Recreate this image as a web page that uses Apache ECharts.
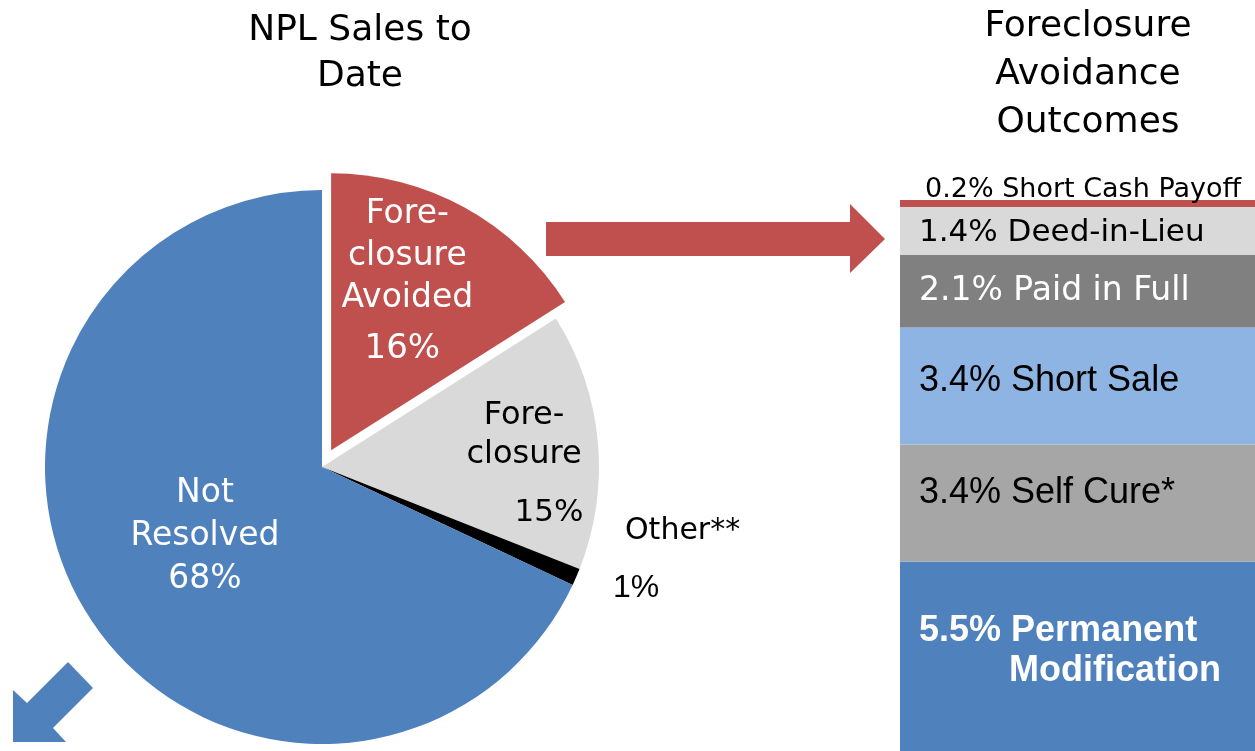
<!DOCTYPE html>
<html>
<head>
<meta charset="utf-8">
<script src="https://cdn.jsdelivr.net/npm/echarts@6/dist/echarts.min.js"></script>
<style>
  html, body { margin: 0; padding: 0; background: #fff; }
  #chart { width: 1255px; height: 751px; }
</style>
</head>
<body>
<div id="chart"></div>
<script>
// NPL sales to date, share of loans (%)
const pieNames = ["Fore-\nclosure\nAvoided", "Fore-\nclosure", "Other**", "Not\nResolved"];
const pieValues = [16, 15, 1, 68];

// foreclosure avoidance outcomes (%), stacked bottom to top
const outcomeNames = ["Permanent\nModification", "Self Cure*", "Short Sale", "Paid in Full", "Deed-in-Lieu", "Short Cash Payoff"];
const outcomeValues = [5.5, 3.4, 3.4, 2.1, 1.4, 0.2];

const pieColors = ["#C0504D", "#D9D9D9", "#000000", "#4F81BD"];
const outcomeColors = ["#4F81BD", "#A6A6A6", "#8DB4E2", "#808080", "#D9D9D9", "#C0504D"];

const TAHOMA = "DejaVu Sans";
const ARIAL = "Liberation Sans";

// where each pie label sits (x, y, align); null = keep the inside spot (exploded slice)
const pieLabelAt = [null, [524, 474, "center"], [613, 560, "left"], [205, 536, "center"]];
// the exploded slice's label is nudged with box padding instead
const piePadding = [[0, 0, 80, 16], 0, 0, 0];

const pieRich = [
  { t: { color: "#fff", fontFamily: TAHOMA, fontSize: 33, lineHeight: 42 },
    p: { color: "#fff", fontFamily: TAHOMA, fontSize: 34, lineHeight: 60, padding: [0, 10, 0, 0] } },
  { t: { color: "#000", fontFamily: TAHOMA, fontSize: 32, lineHeight: 39 },
    p: { color: "#000", fontFamily: TAHOMA, fontSize: 31, lineHeight: 78, padding: [0, 0, 0, 50] } },
  { t: { color: "#000", fontFamily: TAHOMA, fontSize: 30, lineHeight: 57, padding: [0, 0, 0, 12] },
    p: { color: "#000", fontFamily: ARIAL, fontSize: 32, lineHeight: 57 } },
  { t: { color: "#fff", fontFamily: TAHOMA, fontSize: 33, lineHeight: 43 },
    p: { color: "#fff", fontFamily: TAHOMA, fontSize: 33, lineHeight: 43 } }
];

// label look for each outcome segment
const outcomeLabel = [
  { color: "#fff", fontFamily: ARIAL, fontSize: 36, fontWeight: "bold", lineHeight: 40, offset: [0, -5] },
  { color: "#000", fontFamily: ARIAL, fontSize: 36, offset: [0, -10] },
  { color: "#000", fontFamily: ARIAL, fontSize: 36, offset: [0, -5] },
  { color: "#fff", fontFamily: TAHOMA, fontSize: 33, offset: [0, 0] },
  { color: "#000", fontFamily: TAHOMA, fontSize: 31, offset: [0, 2] },
  { color: "#000", fontFamily: TAHOMA, fontSize: 27, position: [25, -10] }
];

const barSeries = outcomeNames.map((name, i) => {
  const lab = outcomeLabel[i];
  const lines = name.split("\n");
  return {
    type: "bar",
    name: name,
    stack: "outcomes",
    barWidth: "100%",
    data: [outcomeValues[i]],
    itemStyle: { color: outcomeColors[i] },
    label: {
      show: true,
      position: lab.position || "insideLeft",
      distance: 19,
      offset: lab.offset || [0, 0],
      align: "left",
      verticalAlign: "middle",
      formatter: p => {
        const first = "{a|" + p.value + "% " + lines[0] + "}";
        return lines.length > 1 ? first + "\n{b|" + lines.slice(1).join(" ") + "}" : first;
      },
      rich: {
        a: { color: lab.color, fontFamily: lab.fontFamily, fontSize: lab.fontSize, fontWeight: lab.fontWeight || "normal", lineHeight: lab.lineHeight || 40 },
        b: { color: lab.color, fontFamily: lab.fontFamily, fontSize: lab.fontSize, fontWeight: lab.fontWeight || "normal", lineHeight: lab.lineHeight || 40, padding: [0, 0, 0, 90] }
      }
    }
  };
});

const chart = echarts.init(document.getElementById("chart"));
chart.setOption({
  animation: false,
  backgroundColor: "#fff",
  title: [
    {
      text: "NPL Sales to\nDate",
      left: 355, top: 3, textAlign: "center",
      textStyle: { fontFamily: TAHOMA, fontSize: 36, fontWeight: "normal", color: "#000", lineHeight: 46 }
    },
    {
      text: "Foreclosure\nAvoidance\nOutcomes",
      left: 1083, top: -2, textAlign: "center",
      textStyle: { fontFamily: TAHOMA, fontSize: 36, fontWeight: "normal", color: "#000", lineHeight: 48 }
    }
  ],
  grid: { left: 900, right: 0, top: 200, bottom: -3 },
  xAxis: { type: "category", data: ["Outcomes"], show: false },
  yAxis: { type: "value", min: 0, max: 16, show: false },
  series: [
    {
      type: "pie",
      center: [322, 467],
      radius: 277,
      startAngle: 90,
      clockwise: true,
      selectedMode: "single",
      selectedOffset: 19,
      silent: true,
      labelLine: { show: false },
      data: pieNames.map((n, i) => ({
        name: n,
        value: pieValues[i],
        selected: i === 0,
        itemStyle: { color: pieColors[i] },
        label: {
          show: true,
          position: "inside",
          padding: piePadding[i],
          formatter: "{t|" + n + "}\n{p|" + pieValues[i] + "%}",
          rich: pieRich[i]
        }
      })),
      labelLayout: p => {
        const at = pieLabelAt[p.dataIndex];
        if (!at) return {};
        return { x: at[0], y: at[1], align: at[2], verticalAlign: "middle" };
      }
    },
    ...barSeries
  ],
  graphic: [
    {
      type: "polygon",
      shape: { points: [[546, 222], [850, 222], [850, 204], [885, 239], [850, 273], [850, 256], [546, 256]] },
      style: { fill: "#C0504D" }
    },
    {
      type: "polygon",
      shape: { points: [[13, 690], [27, 703], [68, 662], [93, 688], [53, 728], [66, 742], [13, 742]] },
      style: { fill: "#4F81BD" }
    }
  ]
});
</script>
</body>
</html>
